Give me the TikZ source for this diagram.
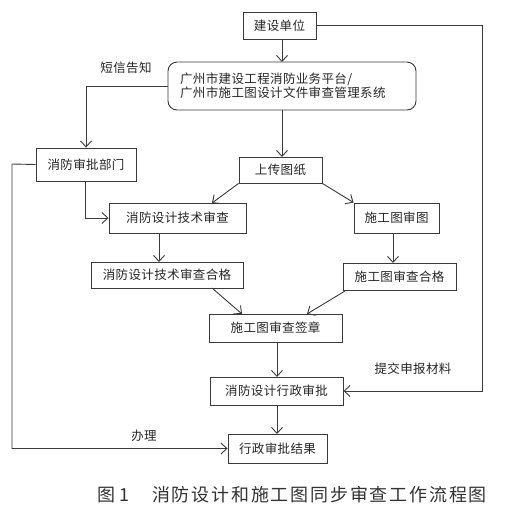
\documentclass[tikz,border=0pt]{standalone}
\usepackage{fontspec}
\setmainfont{Noto Sans CJK SC}
\newfontfamily\cjk{Noto Sans CJK SC}
\usetikzlibrary{arrows.meta}
\definecolor{ln}{HTML}{3A3A3A}
\begin{document}
\begin{tikzpicture}[x=1pt,y=-1pt,
  box/.style={draw=ln,line width=0.9pt,inner sep=0pt,font=\cjk\fontsize{12.5}{14}\selectfont\addfontfeature{LetterSpace=3},text=black!85},
  arr/.style={draw=ln,line width=0.9pt,-{Straight Barb[length=6pt,width=11pt,line width=0.9pt]}},
  ln/.style={draw=ln,line width=0.9pt},
  lbl/.style={font=\cjk\fontsize{12.5}{14}\selectfont\addfontfeature{LetterSpace=3},text=black!85,inner sep=0pt}]
\useasboundingbox (0,0) rectangle (506,507);
\fill[white] (0,0) rectangle (506,507);
\node[box,minimum width=73pt,minimum height=27pt] (jsdw) at (279.5,25.5) {建设单位};
\node[box,rounded corners=9pt,minimum width=248pt,minimum height=48pt,text width=224pt,align=left] (plat) at (292,86)
  {\baselineskip=20pt 广州市建设工程消防业务平台/\\广州市施工图设计文件审查管理系统};
\node[box,minimum width=100pt,minimum height=33pt] (spbm) at (86,164.5) {消防审批部门};
\node[box,minimum width=83pt,minimum height=26pt] (sctz) at (280.5,170) {上传图纸};
\node[box,minimum width=137pt,minimum height=30pt] (js) at (177.5,218) {消防设计技术审查};
\node[box,minimum width=85pt,minimum height=30pt] (st) at (396.5,218) {施工图审图};
\node[box,minimum width=152pt,minimum height=26pt] (jshg) at (167,275) {消防设计技术审查合格};
\node[box,minimum width=113pt,minimum height=27pt] (sthg) at (399.5,276.5) {施工图审查合格};
\node[box,minimum width=133pt,minimum height=28pt] (qz) at (275.5,328) {施工图审查签章};
\node[box,minimum width=133pt,minimum height=28pt] (xz) at (276.5,391) {消防设计行政审批};
\node[box,minimum width=99pt,minimum height=29pt] (jg) at (277.5,448.5) {行政审批结果};
% labels
\node[lbl] (dx) at (126,68) {短信告知};
\node[lbl] (tj) at (413,369) {提交申报材料};
\node[lbl] (bl) at (144,436) {办理};
\node[font=\cjk\fontsize{18}{20}\selectfont,text=black!80,inner sep=0pt,anchor=west] (cap1) at (97,495) {图 1};
\node[font=\cjk\fontsize{18}{20}\selectfont\addfontfeature{LetterSpace=10},text=black!80,inner sep=0pt,anchor=west] (cap2) at (152,495) {消防设计和施工图同步审查工作流程图};
% coordinates
\coordinate (r1) at (482,25.5);
\coordinate (r2) at (482,391);
\coordinate (l1) at (12,164);
\coordinate (l2) at (12,448.5);
\coordinate (p1) at (282,62);
\coordinate (p2) at (282,110);
\coordinate (p3) at (282,157);
\coordinate (a1) at (212,203);
\coordinate (b1) at (159,233);
\coordinate (b2) at (159,262);
\coordinate (c1) at (393,233);
\coordinate (c2) at (393,263);
\coordinate (d1) at (212,288);
\coordinate (d2) at (242,314);
\coordinate (e1) at (345,291);
\coordinate (e2) at (307,314);
\coordinate (f1) at (277,342);
\coordinate (f2) at (277,377);
\coordinate (g1) at (277,405);
\coordinate (g2) at (277,434);
\coordinate (h1) at (85,181);
\coordinate (h2) at (85,218);
% connectors
\draw[arr] (jsdw.south -| p1) -- (p1);
\draw[arr] (jsdw.east) -- (r1) -- (r2) -- (xz.east);
\draw[arr] (plat.west) -| (spbm.north);
\draw[arr] (p2) -- (p3);
\draw[arr] (spbm.west) -- (l1) -- (l2) -- (jg.west);
\draw[arr] (h1) -- (h2) -- (js.west);
\draw[arr] (sctz.south west) -- (a1);
\draw[arr] (sctz.south east) -- (st.north west);
\draw[arr] (b1) -- (b2);
\draw[arr] (c1) -- (c2);
\draw[arr] (d1) -- (d2);
\draw[arr] (e1) -- (e2);
\draw[arr] (f1) -- (f2);
\draw[arr] (g1) -- (g2);
\end{tikzpicture}
\end{document}
